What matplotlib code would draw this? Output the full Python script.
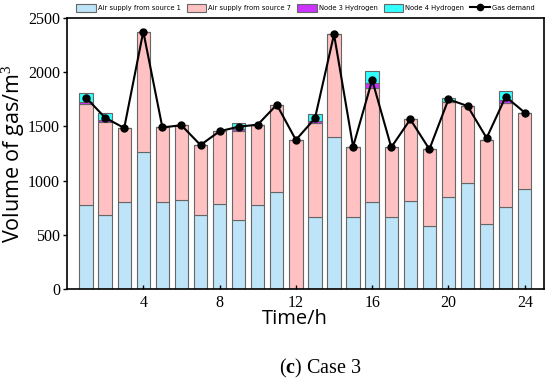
import matplotlib
matplotlib.use("Agg")
import matplotlib.pyplot as plt
import numpy as np

plt.rcParams['mathtext.fontset'] = 'custom'
plt.rcParams['mathtext.rm'] = 'Liberation Serif'
plt.rcParams['mathtext.bf'] = 'Liberation Serif:bold'

hours = list(range(1, 25))
source1 = [778, 683, 805, 1267, 805, 824, 680, 781, 637, 772, 898, 0,
           667, 1405, 667, 803, 661, 809, 581, 846, 975, 597, 759, 922]
source7 = [930, 860, 680, 1107, 686, 686, 648, 674, 823, 744, 796, 1375,
           861, 944, 646, 1054, 646, 756, 708, 882, 713, 778, 954, 705]
node3_h2 = [15, 15, 0, 0, 0, 0, 0, 0, 12, 0, 0, 0,
            22, 0, 0, 40, 0, 0, 0, 0, 0, 0, 31, 0]
node4_h2 = [88, 62, 0, 0, 0, 0, 0, 0, 62, 0, 0, 0,
            64, 0, 0, 114, 0, 0, 0, 37, 0, 0, 86, 0]
gas_demand = [1765, 1580, 1485, 2375, 1491, 1510, 1328, 1455, 1497, 1516, 1700, 1375,
              1574, 2349, 1313, 1928, 1307, 1565, 1289, 1750, 1688, 1393, 1774, 1627]
xticks = [4, 8, 12, 16, 20, 24]
yticks = [0, 500, 1000, 1500, 2000, 2500]

fig = plt.figure(figsize=(5.5, 3.81), dpi=100)
ax = fig.add_axes([0.1218, 0.2415, 0.867, 0.7113])

w = 0.7
ec = '#666666'
s1 = np.array(source1); s7 = np.array(source7); n3 = np.array(node3_h2); n4 = np.array(node4_h2)
b1 = ax.bar(hours, s1, w, color='#BDE4F8', edgecolor=ec, linewidth=0.8, label='Air supply from source 1')
b2 = ax.bar(hours, s7, w, bottom=s1, color='#FFC1C1', edgecolor=ec, linewidth=0.8, label='Air supply from source 7')
b3 = ax.bar(hours, n3, w, bottom=s1 + s7, color='#CC33FF', edgecolor=ec, linewidth=0.8, label='Node 3 Hydrogen')
b4 = ax.bar(hours, n4, w, bottom=s1 + s7 + n3, color='#33FFFF', edgecolor=ec, linewidth=0.8, label='Node 4 Hydrogen')
ln, = ax.plot(hours, gas_demand, color='black', lw=1.5, marker='o', ms=5, label='Gas demand')

ax.set_xlim(0, 25)
ax.set_ylim(0, 2500)
ax.set_xticks(xticks)
ax.set_yticks(yticks)
ax.tick_params(axis='x', direction='in', length=3, width=1, pad=4)
ax.tick_params(axis='y', direction='out', length=3, width=1, pad=2)
for lab in ax.get_xticklabels() + ax.get_yticklabels():
    lab.set_fontfamily('Liberation Serif')
    lab.set_fontsize(11.5)
for s in ax.spines.values():
    s.set_linewidth(1.2)

ax.set_xlabel('Time/h', fontfamily='Open Sans', fontsize=14.5, labelpad=1)
ax.xaxis.set_label_coords(0.478, -0.075)
ax.set_ylabel('Volume of gas/m$^3$', fontfamily='Open Sans', fontsize=15.5, labelpad=1)

ax.legend(handles=[b1, b2, b3, b4, ln], loc='center', bbox_to_anchor=(0.5, 1.037), ncol=5,
          frameon=False, prop={'family': 'DejaVu Sans', 'size': 4.9}, handlelength=2.9,
          handleheight=1.4, columnspacing=0.85, handletextpad=0.3, borderaxespad=0.0,
          borderpad=0.0, markerscale=0.9)

fig.text(0.582, 0.034, r'($\mathbf{c}$) Case 3', ha='center', va='center',
         fontfamily='Liberation Serif', fontsize=14.5)

fig.savefig('out.png', dpi=100)
